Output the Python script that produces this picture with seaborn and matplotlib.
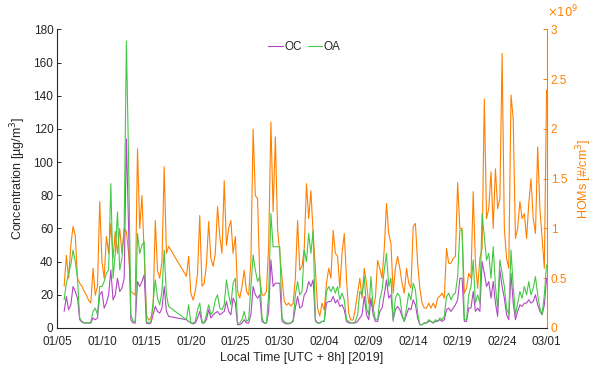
import matplotlib
matplotlib.use("Agg")
import matplotlib.pyplot as plt
import matplotlib.dates as mdates
from matplotlib.ticker import FixedLocator, FuncFormatter
import numpy as np
import pandas as pd
import seaborn as sns

# ---------------------------------------------------------------
# 6-hourly series, two measurement periods (gap 17 Jan - 19 Jan)
# OC / OA in ug/m3, HOMs in units of 1e9 molecules per cm3
# ---------------------------------------------------------------
period1_start = "2019-01-05 18:00"
oc_1 = [10,
        19, 11, 14, 25,
        22, 18, 5, 3.5,
        3, 3, 3, 3,
        6, 5, 6, 20,
        22, 12, 15, 20,
        35, 17, 20, 30,
        22, 24, 30, 114,
        60, 5, 3, 3,
        28, 25, 28, 32,
        3, 2.5, 3, 8,
        13, 10, 9, 12,
        25, 10, 7]
oa_1 = [17,
        27, 33, 38, 47,
        40, 30, 6, 4,
        3, 3, 3, 3.5,
        10, 12, 8, 25,
        25, 28, 33, 35,
        87, 30, 45, 70,
        35, 42, 60, 173,
        100, 8, 4, 4,
        57, 45, 50, 52,
        4, 3, 4, 15,
        29, 18, 14, 22,
        47, 20, 13]
homs_1 = [0.42,
          0.73, 0.50, 0.83, 1.02,
          0.93, 0.50, 0.45, 0.42,
          0.37, 0.33, 0.28, 0.25,
          0.60, 0.33, 0.42, 1.27,
          0.67, 0.50, 0.92, 0.75,
          1.05, 0.70, 0.97, 0.75,
          1.00, 0.75, 1.00, 0.97,
          0.75, 0.37, 0.35, 0.33,
          1.80, 1.00, 1.33, 0.75,
          0.13, 0.08, 0.10, 0.20,
          1.08, 0.58, 0.50, 0.67,
          1.62, 0.75, 0.82]

period2_start = "2019-01-19 12:00"
oc_2 = [5, 4,
        3, 2.5, 3, 6,
        10, 3, 3, 5,
        11, 6, 8, 9,
        10, 8, 9, 10,
        16, 10, 8, 18,
        15, 2, 2, 3,
        5, 3, 3, 8,
        25, 20, 18, 20,
        4, 3, 3, 10,
        41, 25, 27, 27,
        27, 4, 3, 2.5,
        2.5, 3, 4, 12,
        19, 12, 13, 20,
        22, 28, 25, 29,
        5, 3, 3, 4,
        4, 15, 16, 16,
        19, 15, 17, 13,
        14, 11, 4, 3,
        3, 3, 3, 4,
        6, 8, 19, 8,
        5, 18, 8, 4,
        4, 10, 12, 20,
        29, 18, 20, 5,
        11, 13, 11, 7,
        4, 8, 12, 11,
        17, 14, 6, 2,
        2, 3, 3, 4,
        4, 3, 4, 4,
        5, 4, 5, 11,
        12, 10, 12, 14,
        17, 30, 30, 4,
        4, 12, 12, 22,
        10, 12, 10, 40,
        33, 25, 28, 18,
        28, 15, 7, 35,
        25, 18, 8, 5,
        33, 15, 5, 10,
        14, 13, 15, 15,
        17, 15, 16, 20,
        14, 10, 8, 14,
        30]
oa_2 = [5, 14,
        3, 3, 4, 11,
        15, 4, 3, 8,
        14, 8, 10, 17,
        20, 12, 11, 14,
        29, 20, 14, 27,
        30, 3, 3, 5,
        10, 4, 5, 25,
        44, 35, 28, 31,
        6, 3, 3, 20,
        69, 49, 49, 49,
        49, 6, 4, 3,
        3, 3, 5, 20,
        28, 20, 22, 47,
        40, 57, 45, 59,
        4, 3, 3, 4,
        4, 22, 25, 22,
        25, 21, 25, 17,
        21, 17, 5, 4,
        3, 3, 4, 8,
        22, 20, 31, 12,
        8, 31, 12, 5,
        5, 17, 23, 35,
        45, 25, 30, 4,
        18, 21, 19, 8,
        4, 12, 21, 17,
        27, 23, 9, 2,
        2, 3, 3, 5,
        4, 3, 5, 4,
        6, 5, 7, 19,
        21, 17, 20, 21,
        31, 59, 59, 5,
        5, 20, 25, 41,
        15, 20, 15, 69,
        55, 41, 45, 30,
        49, 25, 12, 41,
        33, 25, 12, 8,
        47, 25, 8, 15,
        22, 18, 25, 20,
        28, 20, 24, 31,
        20, 12, 8, 20,
        38]
homs_2 = [0.52, 0.72,
          0.35, 0.28, 0.37, 0.55,
          1.13, 0.42, 0.45, 0.63,
          1.07, 0.70, 0.62, 0.75,
          1.22, 0.92, 0.75, 1.48,
          0.83, 1.00, 1.08, 0.75,
          0.92, 0.37, 0.30, 0.42,
          0.58, 0.37, 0.33, 0.67,
          2.00, 1.33, 1.30, 0.50,
          0.33, 0.33, 0.37, 0.83,
          2.07, 1.17, 1.92, 1.00,
          0.75, 0.50, 0.27, 0.23,
          0.25, 0.22, 0.25, 0.50,
          1.08, 0.58, 0.62, 0.80,
          1.45, 1.10, 1.38, 0.95,
          0.60, 0.20, 0.12, 0.25,
          0.18, 0.45, 0.60, 0.50,
          0.98, 0.75, 0.72, 0.40,
          0.75, 0.95, 0.50, 0.15,
          0.08, 0.08, 0.20, 0.35,
          0.50, 0.30, 0.60, 0.45,
          0.25, 0.25, 0.20, 0.30,
          0.68, 0.60, 0.50, 0.80,
          1.25, 0.95, 0.85, 0.35,
          0.60, 0.72, 0.60, 0.45,
          0.35, 0.60, 0.45, 0.40,
          1.02, 1.05, 0.65, 0.40,
          0.25, 0.20, 0.20, 0.25,
          0.20, 0.25, 0.20, 0.30,
          0.32, 0.35, 0.30, 0.80,
          0.65, 0.65, 0.70, 0.72,
          1.46, 1.00, 1.00, 0.35,
          0.40, 0.55, 0.50, 1.37,
          0.65, 0.40, 0.70, 0.80,
          2.30, 1.10, 1.20, 1.57,
          1.00, 1.60, 1.20, 1.30,
          2.76, 1.00, 0.70, 0.60,
          2.34, 2.10, 0.90, 1.00,
          1.27, 1.10, 1.15, 0.90,
          1.25, 1.50, 1.10, 0.95,
          1.82, 1.20, 0.90, 0.60,
          2.39]

x_ticks = pd.date_range("2019-01-05", "2019-03-01", freq="5D")
conc_ticks = list(range(0, 181, 20))
homs_ticks = [0, 0.5, 1, 1.5, 2, 2.5, 3]

# ---------------------------------------------------------------
def period_frame(start, oc, oa, homs):
    t = pd.date_range(start, periods=len(oc), freq="6h")
    return pd.DataFrame({"time": t, "OC": oc, "OA": oa,
                         "HOMs": np.asarray(homs) * 1e9})

df = pd.concat([period_frame(period1_start, oc_1, oa_1, homs_1),
                period_frame(period2_start, oc_2, oa_2, homs_2)],
               ignore_index=True)

sns.set_theme(style="white")
plt.rcParams["font.family"] = ["Liberation Sans", "DejaVu Sans"]

C_OC = "#B247C4"
C_OA = "#45C845"
C_HOM = "#FF8000"
C_TXT = "#262626"
FS = 8.5

fig = plt.figure(figsize=(5.95, 3.68), dpi=100)
ax = fig.add_axes([0.0966, 0.1087, 0.822, 0.8113])

sns.lineplot(data=df, x="time", y="OC", ax=ax, color=C_OC, lw=0.8,
             label="OC", estimator=None, sort=False)
sns.lineplot(data=df, x="time", y="OA", ax=ax, color=C_OA, lw=0.8,
             label="OA", estimator=None, sort=False)

ax2 = ax.twinx()
sns.lineplot(data=df, x="time", y="HOMs", ax=ax2, color=C_HOM, lw=0.8,
             legend=False, estimator=None, sort=False)

# left axis
ax.set_xlim(pd.Timestamp("2019-01-05"), pd.Timestamp("2019-03-01"))
ax.set_ylim(0, 180)
ax.set_yticks(conc_ticks)
ax.set_xticks(x_ticks)
ax.xaxis.set_major_formatter(mdates.DateFormatter("%m/%d"))
ax.set_ylabel("Concentration [µg/m$^3$]", fontsize=FS + 0.5, color=C_TXT,
              labelpad=4)
ax.set_xlabel("Local Time [UTC + 8h] [2019]", fontsize=FS + 0.5,
              color=C_TXT, labelpad=3)
ax.tick_params(axis="y", direction="in", length=3, width=0.7,
               colors=C_TXT, labelsize=FS, pad=3)
ax.tick_params(axis="x", direction="out", length=3, width=0.7,
               colors=C_TXT, labelsize=FS, pad=3)
for s in ("top", "right"):
    ax.spines[s].set_visible(False)
for s in ("left", "bottom"):
    ax.spines[s].set_color(C_TXT)
    ax.spines[s].set_linewidth(0.8)

# right axis
ax2.set_ylim(0, 3e9)
ax2.yaxis.set_major_locator(FixedLocator([v * 1e9 for v in homs_ticks]))
ax2.yaxis.set_major_formatter(FuncFormatter(lambda v, p: f"{v / 1e9:g}"))
ax2.set_ylabel("HOMs [#/cm$^3$]", fontsize=FS + 0.5, color=C_HOM,
               labelpad=5)
ax2.tick_params(axis="y", direction="in", length=3, width=0.7,
                colors=C_HOM, labelsize=FS, pad=3)
for s in ("top", "left", "bottom"):
    ax2.spines[s].set_visible(False)
ax2.spines["right"].set_color(C_HOM)
ax2.spines["right"].set_linewidth(0.8)
ax2.text(1.0, 1.032, r"$\times10^{9}$", transform=ax2.transAxes,
         color=C_HOM, fontsize=FS, ha="left", va="bottom")

ax.legend(loc="upper center", bbox_to_anchor=(0.505, 0.985), ncol=2,
          frameon=False, fontsize=FS, handlelength=1.2,
          handletextpad=0.15, columnspacing=0.5, borderaxespad=0.2)
ax.set_zorder(ax2.get_zorder() + 1)
ax.patch.set_visible(False)

fig.savefig("out.png", dpi=100)
